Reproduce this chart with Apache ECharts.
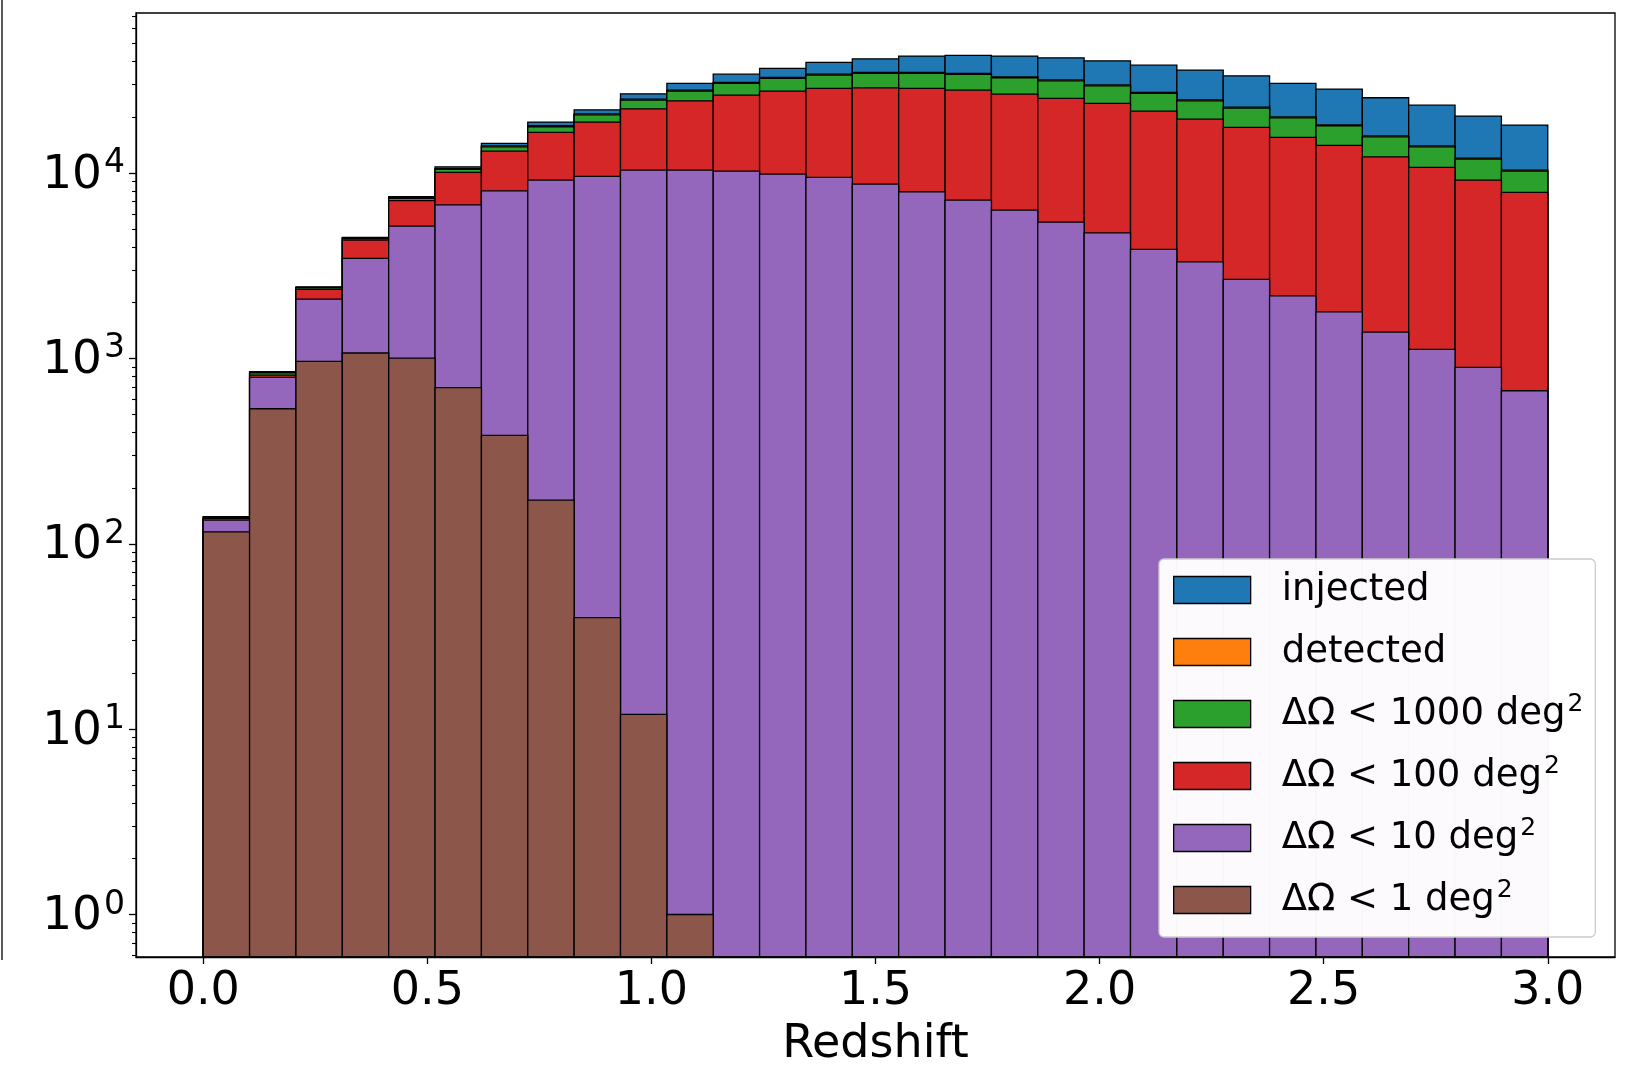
<!DOCTYPE html>
<html>
<head>
<meta charset="utf-8">
<script src="https://cdn.jsdelivr.net/npm/echarts@6/dist/echarts.min.js"></script>
<style>
  html, body { margin: 0; padding: 0; background: #fff; }
  #chart { width: 1634px; height: 1074px; }
</style>
</head>
<body>
<div id="chart"></div>
<script>
// Histogram bin edges (29 bins from z = 0 to z = 3)
const binEdges = [0, 0.10345, 0.2069, 0.31034, 0.41379, 0.51724, 0.62069, 0.72414, 0.82759, 0.93103,
  1.03448, 1.13793, 1.24138, 1.34483, 1.44828, 1.55172, 1.65517, 1.75862, 1.86207, 1.96552,
  2.06897, 2.17241, 2.27586, 2.37931, 2.48276, 2.58621, 2.68966, 2.7931, 2.89655, 3.0];

// Counts per bin
const injected = [140, 849, 2433, 4495, 7445, 10800, 14450, 18830, 21920, 26740,
  30420, 34140, 36650, 39520, 41290, 42730, 43080, 42730, 41790, 40260,
  38180, 35890, 33440, 30420, 28370, 25460, 23230, 20280, 18130];
const detected = [139, 842, 2415, 4465, 7360, 10560, 14020, 17980, 20860, 25030,
  27990, 30790, 32770, 34150, 34860, 34860, 34440, 33040, 31810, 29890,
  27200, 24800, 22660, 20090, 18200, 15860, 14010, 12040, 10370];
const dOmega1000 = [138, 835, 2400, 4440, 7300, 10450, 13850, 17760, 20600, 24730,
  27660, 30420, 32370, 33740, 34440, 34440, 34020, 32640, 31420, 29530,
  26870, 24500, 22390, 19850, 17980, 15670, 13840, 11890, 10240];
const dOmega100 = [137, 812, 2355, 4350, 7087, 10070, 13120, 16560, 18830, 22190,
  24500, 26310, 27660, 28600, 28820, 28600, 27990, 26650, 25250, 23730,
  21570, 19530, 17620, 15560, 14090, 12220, 10720, 9160, 7855];
const dOmega10 = [134, 789, 2089, 3461, 5171, 6736, 8017, 9156, 9590, 10370,
  10370, 10240, 9860, 9470, 8715, 7920, 7140, 6310, 5435, 4755,
  3873, 3319, 2668, 2176, 1783, 1387, 1118, 894, 669];
const dOmega1 = [116, 535, 963, 1069, 1003, 696, 384, 172, 40, 12,
  1, null, null, null, null, null, null, null, null, null,
  null, null, null, null, null, null, null, null, null];

const seriesNames = ['injected', 'detected', 'ΔΩ < 1000 deg²', 'ΔΩ < 100 deg²', 'ΔΩ < 10 deg²', 'ΔΩ < 1 deg²'];
const seriesColors = ['#1f77b4', '#ff7f0e', '#2ca02c', '#d62728', '#9467bd', '#8c564b'];
const seriesValues = [injected, detected, dOmega1000, dOmega100, dOmega10, dOmega1];

const xTicks = [0, 0.5, 1.0, 1.5, 2.0, 2.5, 3.0];
const yMajorTicks = [1, 10, 100, 1000, 10000];
const yMinorTicks = [0.6, 0.7, 0.8, 0.9, 2, 3, 4, 5, 6, 7, 8, 9, 20, 30, 40, 50, 60, 70, 80, 90,
  200, 300, 400, 500, 600, 700, 800, 900, 2000, 3000, 4000, 5000, 6000, 7000, 8000, 9000,
  20000, 30000, 40000, 50000, 60000, 70000];

const X_MIN = -0.15, X_MAX = 3.15;
const Y_MIN = 0.59, Y_MAX = 72960;
const FONT = 'DejaVu Sans';

function buildData(vals) {
  const out = [];
  for (let i = 0; i < vals.length; i++) {
    if (vals[i] != null && vals[i] > 0) out.push([binEdges[i], binEdges[i + 1], vals[i]]);
  }
  return out;
}

function makeRender(color) {
  return function (params, api) {
    const x0 = api.value(0), x1 = api.value(1), v = api.value(2);
    const pTop = api.coord([x0, v]);
    const pBot = api.coord([x1, Y_MIN]);
    return {
      type: 'rect',
      shape: { x: pTop[0], y: pTop[1], width: pBot[0] - pTop[0], height: pBot[1] - pTop[1] },
      style: { fill: color, stroke: '#000', lineWidth: 1.3 }
    };
  };
}

const series = seriesNames.map((name, k) => ({
  name: name,
  type: 'custom',
  xAxisIndex: 0,
  yAxisIndex: 0,
  renderItem: makeRender(seriesColors[k]),
  dimensions: ['x0', 'x1', 'count'],
  encode: { x: [0, 1], y: 2 },
  itemStyle: { color: seriesColors[k], borderColor: '#000', borderWidth: 1.3 },
  data: buildData(seriesValues[k]),
  z: 2
}));

const chart = echarts.init(document.getElementById('chart'), null, { renderer: 'canvas' });
chart.setOption({
  animation: false,
  backgroundColor: '#fff',
  textStyle: { fontFamily: FONT },
  grid: {
    left: 136, top: 13, width: 1479, height: 944,
    show: true, borderColor: '#000', borderWidth: 1.3, backgroundColor: 'transparent', z: 8
  },
  xAxis: {
    type: 'value',
    min: X_MIN, max: X_MAX,
    name: 'Redshift',
    nameLocation: 'middle',
    nameGap: 65,
    nameTextStyle: { fontFamily: FONT, fontSize: 46, color: '#000' },
    axisLine: { show: true, onZero: false, lineStyle: { color: '#000', width: 1.3 } },
    axisTick: { show: true, customValues: xTicks, length: 7, lineStyle: { color: '#000', width: 1.3 } },
    axisLabel: {
      customValues: xTicks, margin: 12, color: '#000', fontFamily: FONT, fontSize: 46,
      formatter: v => Number(v).toFixed(1)
    },
    splitLine: { show: false }
  },
  yAxis: [{
    type: 'log',
    logBase: 10,
    min: Y_MIN, max: Y_MAX,
    position: 'left',
    axisLine: { show: true, onZero: false, lineStyle: { color: '#000', width: 1.3 } },
    axisTick: { show: true, customValues: yMajorTicks, length: 7, lineStyle: { color: '#000', width: 1.3 } },
    axisLabel: {
      customValues: yMajorTicks, margin: 11, color: '#000',
      formatter: v => '{b|10}{s|' + Math.round(Math.log10(v)) + '}',
      rich: {
        b: { fontFamily: FONT, fontSize: 47, color: '#000', lineHeight: 52, verticalAlign: 'bottom' },
        s: { fontFamily: FONT, fontSize: 33, color: '#000', lineHeight: 32, verticalAlign: 'top', padding: [0, 0, 0, 2] }
      }
    },
    splitLine: { show: false }
  }, {
    type: 'log',
    logBase: 10,
    min: Y_MIN, max: Y_MAX,
    position: 'left',
    axisLine: { show: false, onZero: false },
    axisTick: { show: true, customValues: yMinorTicks, length: 4, lineStyle: { color: '#000', width: 1.1 } },
    axisLabel: { show: false },
    splitLine: { show: false }
  }],
  legend: {
    orient: 'vertical',
    left: 1159, top: 559,
    z: 20,
    padding: [9, 12, 15, 14],
    itemWidth: 77, itemHeight: 27, itemGap: 18,
    backgroundColor: 'rgba(255,255,255,0.97)',
    borderColor: '#cccccc', borderWidth: 1.3, borderRadius: 5,
    icon: 'rect',
    selectedMode: false,
    data: seriesNames.map((n, k) => ({ name: n, itemStyle: { color: seriesColors[k], borderColor: '#000', borderWidth: 1.3 } })),
    formatter: name => name.endsWith('²') ? name.slice(0, -1) + '{s|2}' : name,
    textStyle: {
      fontFamily: FONT, fontSize: 37, color: '#000', lineHeight: 44, padding: [0, 0, 0, 26],
      rich: {
        s: { fontFamily: FONT, fontSize: 25, color: '#000', lineHeight: 25, verticalAlign: 'top', padding: [0, 0, 0, 2] }
      }
    }
  },
  graphic: [{
    type: 'line',
    shape: { x1: 2, y1: 0, x2: 2, y2: 960 },
    style: { stroke: '#000', lineWidth: 1.3 },
    silent: true
  }],
  series: series
});
</script>
</body>
</html>
